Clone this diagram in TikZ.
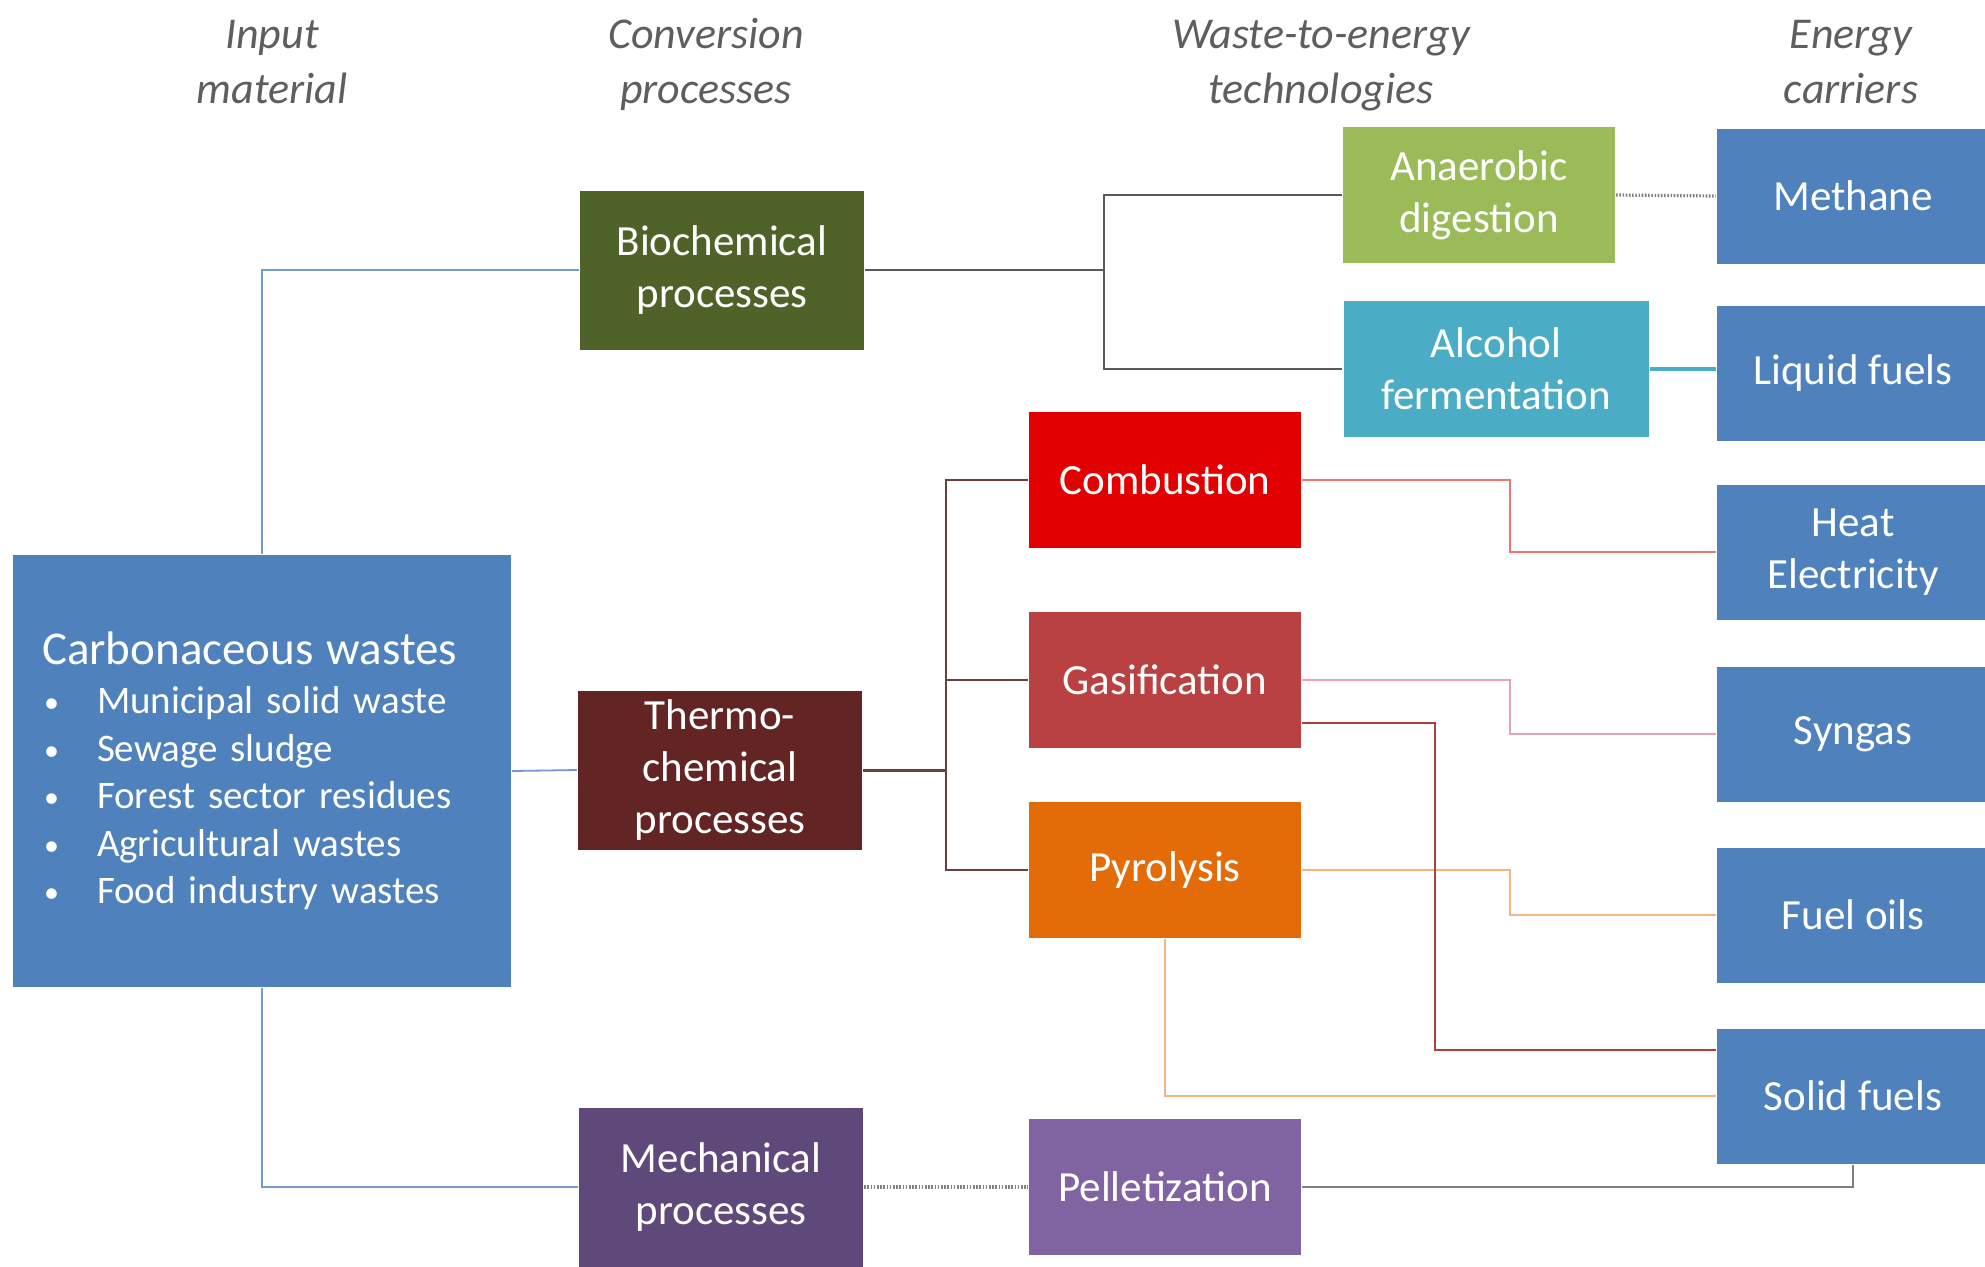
\documentclass[tikz,border=0pt]{standalone}
\usepackage{fontspec}
\setmainfont{Carlito}
\usetikzlibrary{positioning}

\definecolor{cblue}{HTML}{4F81BD}
\definecolor{cbio}{HTML}{4F6228}
\definecolor{cthermo}{HTML}{632523}
\definecolor{cmech}{HTML}{5F497A}
\definecolor{canaer}{HTML}{9BBB59}
\definecolor{calco}{HTML}{4BACC6}
\definecolor{ccomb}{HTML}{E30000}
\definecolor{cgas}{HTML}{B94141}
\definecolor{cpyro}{HTML}{E36C09}
\definecolor{cpel}{HTML}{8064A2}
\definecolor{headgray}{HTML}{5E5E5E}

\newcommand{\wbullet}{\makebox[27.5pt][l]{\hspace{1pt}\raisebox{0.5pt}{\fontsize{15}{15}\selectfont\textbullet}}}

\begin{document}
\begin{tikzpicture}[x=0.5pt, y=-0.5pt, line width=1.1pt,
	every node/.style={inner sep=0pt},
	box/.style={fill=#1, text=white, align=center, font=\fontsize{21.5}{26}\selectfont},
	process/.style={box=#1, minimum width=142pt, minimum height=79.5pt},
	tech/.style={box=#1, minimum width=136pt, minimum height=68pt},
	carrier/.style={box=cblue, minimum width=136pt, minimum height=67.5pt},
	head/.style={align=center, anchor=base, text=headgray, font=\itshape\fontsize{22}{27.5}\selectfont},
	wline/.style={draw=cblue!80!white, line width=0.9pt},
	bline/.style={draw=black!65},
	tline/.style={draw=cthermo!70!gray},
	dotline/.style={draw=gray, line width=1.6pt, dash pattern=on 0.8pt off 0.8pt}]
	\useasboundingbox (0,0) rectangle (1985,1266);

	% column titles
	\node[head] (h1) at (272,103) {Input\\material};
	\node[head] (h2) at (706,103) {Conversion\\processes};
	\node[head] (h3) at (1321,103) {Waste-to-energy\\technologies};
	\node[head] (h4) at (1851,103) {Energy\\carriers};

	% input material
	\node[fill=cblue, text=white, minimum width=249pt, minimum height=216pt,
		text width=220pt, align=left, inner xsep=14.5pt,
		font=\fontsize{19.5}{23.75}\selectfont] (waste) at (262,771)
		{{\fontsize{23.5}{26.5}\selectfont Carbonaceous wastes}\\[1pt]
		\wbullet Municipal solid waste\\
		\wbullet Sewage sludge\\
		\wbullet Forest sector residues\\
		\wbullet Agricultural wastes\\
		\wbullet Food industry wastes};

	% conversion processes
	\node[process=cbio] (bio) at (722,270) {Biochemical\\processes};
	\node[process=cthermo] (thermo) at (720,770) {Thermo-\\chemical\\processes};
	\node[process=cmech] (mech) at (721,1187) {Mechanical\\processes};

	% waste-to-energy technologies
	\node[tech=canaer] (anaer) at (1479,195) {Anaerobic\\digestion};
	\node[tech=calco, minimum width=152.5pt] (alco) at (1496,369) {Alcohol\\fermentation};
	\node[tech=ccomb] (comb) at (1165,480) {Combustion};
	\node[tech=cgas] (gas) at (1165,680) {Gasification};
	\node[tech=cpyro] (pyro) at (1165,870) {Pyrolysis};
	\node[tech=cpel] (pel) at (1165,1187) {Pelletization};

	% energy carriers
	\node[carrier] (meth) at (1853,196) {Methane};
	\node[carrier] (liq) at (1853,373) {Liquid fuels};
	\node[carrier] (heat) at (1853,552) {Heat\\Electricity};
	\node[carrier] (syn) at (1853,734) {Syngas};
	\node[carrier] (fuel) at (1853,915) {Fuel oils};
	\node[carrier] (solid) at (1853,1096) {Solid fuels};

	% input -> conversion
	\draw[wline] (waste.north) |- (bio.west);
	\draw[wline] (waste.east) -- (thermo.west);
	\draw[wline] (waste.south) |- (mech.west);

	% conversion -> technologies
	\coordinate (bj) at (1104,270);
	\draw[bline] (bio.east) -- (bj);
	\draw[bline] (anaer.west) -| (bj) |- (alco.west);
	\coordinate (tj) at (946,770);
	\draw[tline, line width=1.5pt] (thermo.east) -- (tj);
	\draw[tline] (comb.west) -| (tj) |- (pyro.west);
	\draw[tline] (gas.west) -- (gas.west -| tj);
	\draw[dotline] (mech.east) -- (pel.west);

	% technologies -> carriers
	\coordinate (ex) at (1510,0);
	\draw[dotline] (anaer.east) -- (meth.west);
	\draw[draw=calco, line width=1.8pt] (alco.east) -- (alco.east -| liq.west);
	\draw[draw=ccomb!55!white] (comb.east) -| (ex |- heat.west) -- (heat.west);
	\draw[draw=cgas!40!white!90!magenta] (gas.east) -| (ex |- syn.west) -- (syn.west);
	\draw[draw=cpyro!50!white] (pyro.east) -| (ex |- fuel.west) -- (fuel.west);
	\draw[draw=cgas!95!black] ([yshift=-21.5pt]gas.east) -| ([xshift=-140.5pt, yshift=23pt]solid.west) -- ([yshift=23pt]solid.west);
	\draw[draw=cpyro!50!white] (pyro.south) |- (solid.west);
	\draw[draw=gray] (pel.east) -| (solid.south);
\end{tikzpicture}
\end{document}
